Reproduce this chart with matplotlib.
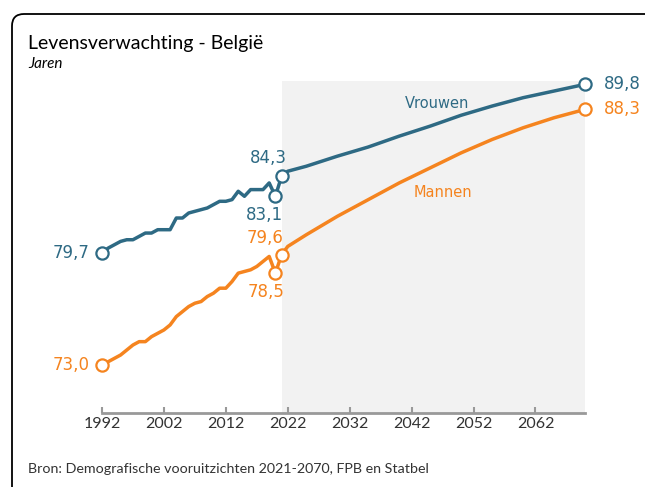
import matplotlib.pyplot as plt
from matplotlib.patches import FancyBboxPatch

# observed (Statbel) and projected (FPB) life expectancy at birth
years_obs = list(range(1992, 2022))
women_obs = [79.7, 80.0, 80.2, 80.4, 80.5, 80.5, 80.7, 80.9, 80.9, 81.1,
             81.1, 81.1, 81.8, 81.8, 82.1, 82.2, 82.3, 82.4, 82.6, 82.8,
             82.8, 82.9, 83.4, 83.1, 83.5, 83.5, 83.5, 83.9, 83.1, 84.3]
men_obs = [73.0, 73.2, 73.4, 73.6, 73.9, 74.2, 74.4, 74.4, 74.7, 74.9,
           75.1, 75.4, 75.9, 76.2, 76.5, 76.7, 76.8, 77.1, 77.3, 77.6,
           77.6, 78.0, 78.5, 78.6, 78.7, 78.9, 79.2, 79.5, 78.5, 79.6]

years_proj = [2021, 2022, 2025, 2030, 2035, 2040, 2045, 2050, 2055, 2060, 2065, 2070]
women_proj = [84.3, 84.6, 84.9, 85.5, 86.05, 86.7, 87.3, 87.95, 88.5, 89.0, 89.4, 89.8]
men_proj = [79.6, 80.1, 80.8, 81.9, 82.9, 83.9, 84.8, 85.7, 86.5, 87.2, 87.8, 88.3]

xticks = [1992, 2002, 2012, 2022, 2032, 2042, 2052, 2062]

c_women = '#2e6a84'
c_men = '#f5841f'

W, H = 645, 487
fig = plt.figure(figsize=(W / 100, H / 100), dpi=100)

# card frame, runs off the right and bottom edges
frame = FancyBboxPatch((0.12, -1.0), 10, (H - 14) / 100 + 1.0,
                       boxstyle='round,pad=0,rounding_size=0.12',
                       transform=fig.dpi_scale_trans, fc='white', ec='black',
                       lw=1.3, zorder=-5)
fig.patches.append(frame)

ax = fig.add_axes([102 / W, (H - 413) / H, (585 - 102) / W, 332 / H])
ax.set_zorder(2)
ax.set_xlim(1992, 2070)
ax.set_ylim(70.13, 90.0)
ax.patch.set_alpha(0)

ax.axvspan(2021, 2070, color='#f2f2f2', lw=0, zorder=0)

for yrs, vals, c in [(years_obs, women_obs, c_women), (years_proj, women_proj, c_women),
                     (years_obs, men_obs, c_men), (years_proj, men_proj, c_men)]:
    ax.plot(yrs, vals, color=c, lw=2.5, solid_joinstyle='round', clip_on=False, zorder=3)

mk = dict(marker='o', ms=8.8, mfc='white', mew=1.6, ls='none', clip_on=False, zorder=4)
ax.plot([1992, 2020, 2021, 2070], [women_obs[0], women_obs[-2], women_proj[0], women_proj[-1]],
        mec=c_women, **mk)
ax.plot([1992, 2020, 2021, 2070], [men_obs[0], men_obs[-2], men_proj[0], men_proj[-1]],
        mec=c_men, **mk)

def lab(x, y, s, c, **kw):
    ax.text(x, y, s.replace('.', ','), color=c, fontsize=12, family='DejaVu Sans', **kw)

lab(1990.0, women_obs[0], f'{women_obs[0]:.1f}', c_women, ha='right', va='center')
lab(1990.0, men_obs[0], f'{men_obs[0]:.1f}', c_men, ha='right', va='center')
lab(2073.0, women_proj[-1], f'{women_proj[-1]:.1f}', c_women, ha='left', va='center')
lab(2073.0, men_proj[-1], f'{men_proj[-1]:.1f}', c_men, ha='left', va='center')
lab(2018.9, women_proj[0] + 0.55, f'{women_proj[0]:.1f}', c_women, ha='center', va='bottom')
lab(2018.3, women_obs[-2] - 0.6, f'{women_obs[-2]:.1f}', c_women, ha='center', va='top')
lab(2018.3, men_proj[0] + 0.45, f'{men_proj[0]:.1f}', c_men, ha='center', va='bottom')
lab(2018.5, men_obs[-2] - 0.6, f'{men_obs[-2]:.1f}', c_men, ha='center', va='top')

ax.text(2046.1, 88.67, 'Vrouwen', color=c_women, fontsize=10.5, family='DejaVu Sans',
        ha='center', va='center')
ax.text(2047.1, 83.35, 'Mannen', color=c_men, fontsize=10.5, family='DejaVu Sans',
        ha='center', va='center')

for s in ['top', 'right', 'left']:
    ax.spines[s].set_visible(False)
ax.spines['bottom'].set_color('#999999')
ax.spines['bottom'].set_linewidth(2)
ax.set_yticks([])
ax.set_xticks(xticks)
ax.tick_params(axis='x', direction='in', length=4, width=1.5, color='#999999',
               labelsize=11.5, labelcolor='#333333', pad=3)
for t in ax.get_xticklabels():
    t.set_family('Lato')

fig.text(28 / W, 1 - 44 / H, 'Levensverwachting - België', fontsize=14, family='Lato',
         va='center', ha='left', color='black')
fig.text(28 / W, 1 - 64 / H, 'Jaren', fontsize=11, family='Lato', style='italic',
         va='center', ha='left', color='black')
fig.text(28 / W, 1 - 469 / H, 'Bron: Demografische vooruitzichten 2021-2070, FPB en Statbel',
         fontsize=10.25, family='Lato', va='center', ha='left', color='#333333')

fig.savefig('out.png', dpi=100)
